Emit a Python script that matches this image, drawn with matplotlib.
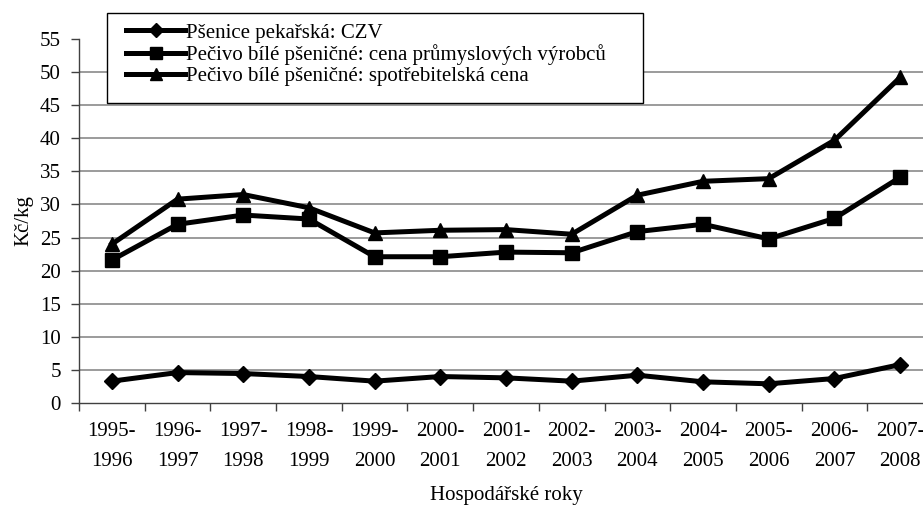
import matplotlib
matplotlib.use("Agg")
import matplotlib.pyplot as plt
from matplotlib.patches import Rectangle
import numpy as np

plt.rcParams['font.family'] = ['Liberation Serif', 'DejaVu Serif']

categories = ["1995-\n1996", "1996-\n1997", "1997-\n1998", "1998-\n1999", "1999-\n2000",
              "2000-\n2001", "2001-\n2002", "2002-\n2003", "2003-\n2004", "2004-\n2005",
              "2005-\n2006", "2006-\n2007", "2007-\n2008"]
psenice_czv = [3.3, 4.6, 4.45, 4.0, 3.3, 4.0, 3.8, 3.3, 4.2, 3.2, 2.9, 3.7, 5.8]
pecivo_cpv = [21.6, 27.0, 28.4, 27.8, 22.1, 22.1, 22.8, 22.7, 25.9, 27.0, 24.8, 27.9, 34.1]
pecivo_spc = [24.0, 30.8, 31.5, 29.5, 25.7, 26.1, 26.2, 25.5, 31.4, 33.5, 33.9, 39.7, 49.2]
labels = ["Pšenice pekařská: CZV",
          "Pečivo bílé pšeničné: cena průmyslových výrobců",
          "Pečivo bílé pšeničné: spotřebitelská cena"]

W, H = 923, 509
fig = plt.figure(figsize=(W/100, H/100), dpi=100)
ax = fig.add_axes([79/W, 1-403/H, 854/W, 364/H])

x = np.arange(len(categories))
lw = 3.6
l1, = ax.plot(x, psenice_czv, color='black', lw=lw, marker='D', ms=8, zorder=3)
l2, = ax.plot(x, pecivo_cpv, color='black', lw=lw, marker='s', ms=9.5, zorder=3)
l3, = ax.plot(x, pecivo_spc, color='black', lw=lw, marker='^', ms=10, zorder=3)

ax.set_xlim(-0.5, len(categories)-0.5)
ax.set_ylim(0, 55)
yt = np.arange(0, 56, 5)
ax.set_yticks(yt)
for v in yt[1:-1]:
    ax.axhline(v, color='#808080', lw=1.1, zorder=1)

ax.set_xticks(np.arange(-0.5, len(categories), 1.0))
ax.set_xticklabels([])
ax.set_xticks(x, minor=True)
ax.set_xticklabels(categories, minor=True, fontsize=15, linespacing=1.75)
ax.tick_params(axis='x', which='minor', length=0, pad=14)
ax.tick_params(axis='x', which='major', length=6, width=1, color='#404040', direction='out')
ax.tick_params(axis='y', length=6, width=1, color='#404040', labelsize=15, pad=7)

for s in ['top', 'right']:
    ax.spines[s].set_visible(False)
for s in ['left', 'bottom']:
    ax.spines[s].set_color('#404040')
    ax.spines[s].set_linewidth(1)

ax.set_ylabel("Kč/kg", fontsize=15, labelpad=5)
ax.set_xlabel("Hospodářské roky", fontsize=15, labelpad=11)

# legend box
fig.patches.append(Rectangle((107/W, 1-103/H), (643-107)/W, 90/H, transform=fig.transFigure,
                             facecolor='white', edgecolor='black', lw=1, zorder=4))
leg = fig.legend([l1, l2, l3], labels, loc='upper left',
                 bbox_to_anchor=(126/W, 1-23/H), fontsize=15, frameon=False,
                 handlelength=2.85, handletextpad=0.05, labelspacing=0.08,
                 borderpad=0, borderaxespad=0, markerscale=0.85)
leg.set_zorder(5)

fig.savefig("out.png", dpi=100)
